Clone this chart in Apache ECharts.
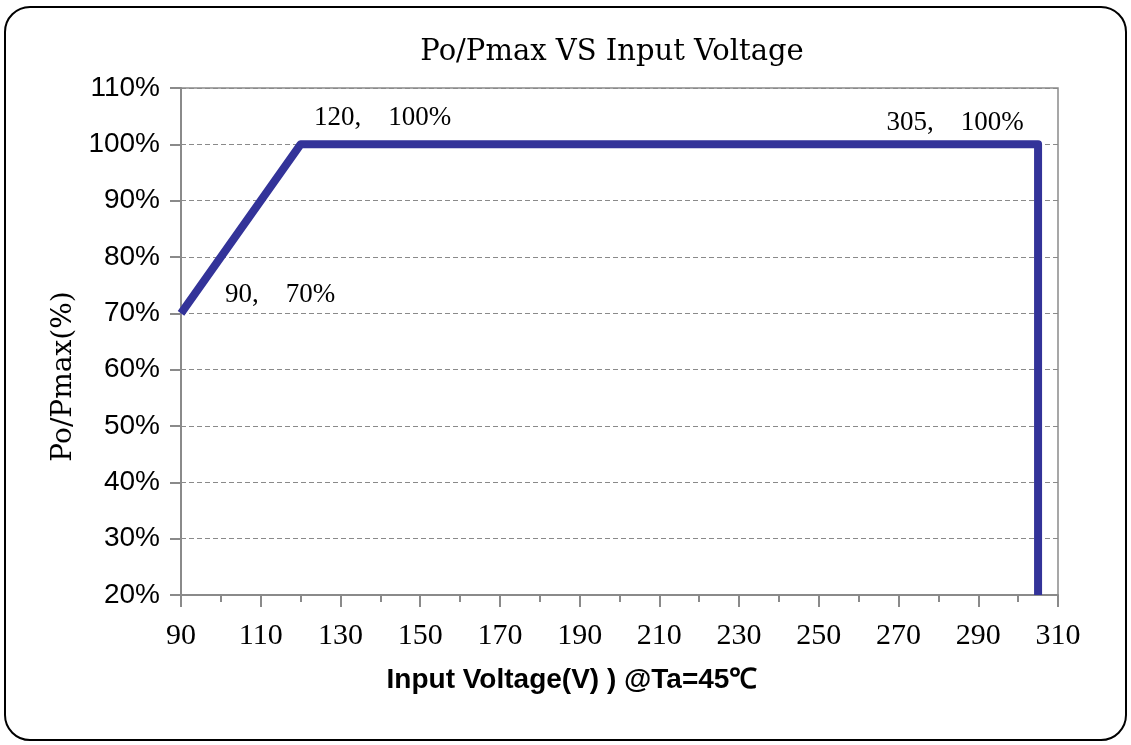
<!DOCTYPE html>
<html>
<head>
<meta charset="utf-8">
<script src="https://cdn.jsdelivr.net/npm/echarts@6/dist/echarts.min.js"></script>
<style>html,body{margin:0;padding:0;background:#fff}#c{width:1131px;height:745px}</style>
</head>
<body>
<div id="c"></div>
<script>
const voltages = [90, 120, 305, 305];
const powerPct = [70, 100, 100, 20];
const pointLabels = ['90,\u200370%', '120,\u2003100%', '305,\u2003100%', ''];
const xTicks = [90, 110, 130, 150, 170, 190, 210, 230, 250, 270, 290, 310];
const yTicks = [20, 30, 40, 50, 60, 70, 80, 90, 100, 110];

const labelOffsets = [[99, -18], [82, -26], [-83, -21], [0, 0]];
const serif = '"Liberation Serif", "DejaVu Serif", serif';
const wideSerif = '"DejaVu Serif", "Liberation Serif", serif';
const sans = '"Liberation Sans", Arial, sans-serif';

const seriesData = voltages.map((v, i) => ({
  value: [v, powerPct[i]],
  label: {
    show: pointLabels[i] !== '',
    formatter: pointLabels[i],
    position: 'inside',
    offset: labelOffsets[i],
    fontFamily: serif,
    fontSize: 27,
    color: '#000'
  }
}));

const chart = echarts.init(document.getElementById('c'), null, {renderer: 'canvas'});
chart.setOption({
  animation: false,
  backgroundColor: '#fff',
  title: {
    text: 'Po/Pmax VS Input Voltage',
    left: 607, top: 33, textAlign: 'center',
    textStyle: {fontFamily: wideSerif, fontSize: 29, fontWeight: 'normal', color: '#000'}
  },
  graphic: [{
    type: 'rect',
    shape: {x: 5, y: 7, width: 1121, height: 733, r: 25},
    style: {fill: 'none', stroke: '#000', lineWidth: 2},
    z: -1
  }],
  grid: {
    left: 181, right: 73, top: 88, bottom: 150,
    show: true, borderColor: '#8a8a8a', borderWidth: 1.5, backgroundColor: 'transparent'
  },
  xAxis: {
    type: 'value',
    min: xTicks[0], max: xTicks[xTicks.length - 1], interval: 20,
    name: 'Input Voltage(V) ) @Ta=45\u2103',
    nameLocation: 'middle', nameGap: 71,
    nameTextStyle: {fontFamily: sans, fontSize: 28, fontWeight: 'bold', color: '#000', padding: [0, 95, 0, 0]},
    axisLine: {show: true, lineStyle: {color: '#8a8a8a', width: 2}},
    axisTick: {show: true, length: 12, lineStyle: {color: '#8a8a8a', width: 2}},
    minorTick: {show: true, splitNumber: 2, length: 7, lineStyle: {color: '#8a8a8a', width: 2}},
    axisLabel: {fontFamily: serif, fontSize: 30, color: '#000', margin: 26},
    splitLine: {show: false}
  },
  yAxis: {
    type: 'value',
    min: yTicks[0], max: yTicks[yTicks.length - 1], interval: 10,
    name: 'Po/Pmax(%)',
    nameLocation: 'middle', nameGap: 103,
    nameTextStyle: {fontFamily: wideSerif, fontSize: 28, color: '#000', padding: [0, 70, 0, 0]},
    axisLine: {show: true, lineStyle: {color: '#8a8a8a', width: 2}},
    axisTick: {show: true, length: 11, lineStyle: {color: '#8a8a8a', width: 2}},
    axisLabel: {fontFamily: sans, fontSize: 28, color: '#000', margin: 21, formatter: '{value}%'},
    splitLine: {show: true, lineStyle: {color: '#8a8a8a', type: [5, 3], width: 1.2}}
  },
  series: [{
    type: 'line',
    data: seriesData,
    symbol: 'circle', symbolSize: 0, showSymbol: true,
    lineStyle: {color: '#333399', width: 8, join: 'round'},
    itemStyle: {color: '#333399'},
    clip: false,
    z: 5
  }]
});
</script>
</body>
</html>
